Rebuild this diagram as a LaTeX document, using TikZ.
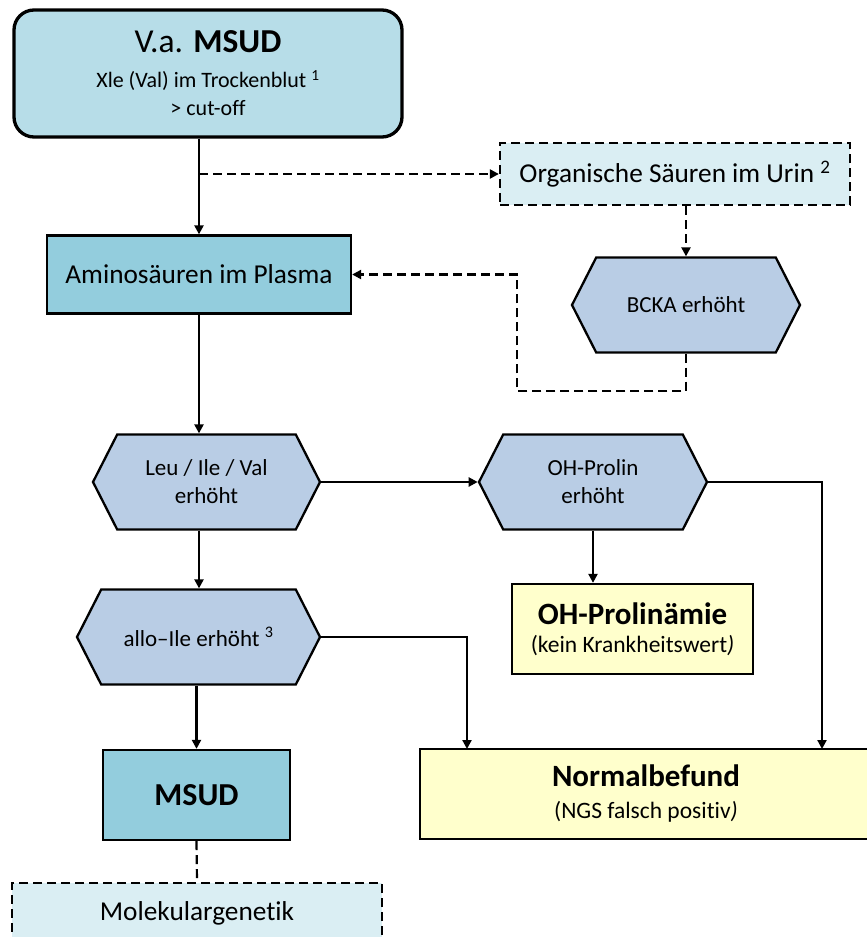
\documentclass[tikz,border=0pt]{standalone}
\usepackage{fontspec}
\setmainfont{Carlito}[Ligatures=CommonOff]
\usetikzlibrary{arrows.meta,shapes.symbols}
\definecolor{headblue}{HTML}{B7DDE8}
\definecolor{boxblue}{HTML}{93CDDD}
\definecolor{paleblue}{HTML}{DAEEF3}
\definecolor{hexblue}{HTML}{B9CDE5}
\definecolor{resyellow}{HTML}{FFFFCC}
\newcommand\fsz[2]{\fontsize{#1}{#2}\selectfont}
\begin{document}
\begin{tikzpicture}[x=1pt,y=-1pt,
  box/.style={draw,line width=2.3pt,inner sep=0pt,align=center},
  dashbox/.style={box,fill=paleblue,dash pattern=on 9pt off 5pt,font=\fsz{27.3}{31}},
  hexa/.style={draw,line width=2.3pt,fill=hexblue,signal,signal to=west and east,
    signal pointer angle=126,minimum height=95pt,inner sep=0pt,align=center,font=\fsz{23}{28}},
  result/.style={box,fill=resyellow,font=\fsz{23.5}{33}},
  arr/.style={-{Triangle[length=9pt,width=9pt]},line width=2.2pt},
  dasharr/.style={arr,dash pattern=on 9pt off 5pt}]
\useasboundingbox (0,0) rectangle (867,937);
\node [box,fill=headblue,line width=3.3pt,rounded corners=20pt,minimum width=388pt,minimum height=127pt,font=\fsz{22}{28}] (vamsud) at (208,73.5)
  {{\fsz{33.5}{33.5}V.a. \textbf{MSUD}}\\[7pt] Xle (Val) im Trockenblut \textsuperscript{1}\\ > cut-off};
\node [dashbox,minimum width=350pt,minimum height=62pt] (organ) at (675,174) {Organische Säuren im Urin \textsuperscript{2}};
\node [box,fill=boxblue,minimum width=304pt,minimum height=78pt,font=\fsz{27.3}{31}] (amino) at (199,274.5) {Aminosäuren im Plasma};
\node [hexa,minimum width=228pt] (bcka) at (686,305) {BCKA erhöht};
\node [hexa,minimum width=227pt] (leu) at (206.5,482) {Leu / Ile / Val\\ erhöht};
\node [hexa,minimum width=228pt] (ohpro) at (593,482) {OH-Prolin\\ erhöht};
\node [hexa,minimum width=243pt] (allo) at (198.5,637) {allo--Ile erhöht \textsuperscript{3}};
\node [result,minimum width=241pt,minimum height=90pt] (ohpam) at (632.5,629) {{\fsz{31}{31}\textbf{OH-Prolinämie}}\\[-5pt] (kein Krankheitswert\textit{)}};
\node [box,fill=boxblue,minimum width=187pt,minimum height=90pt,font=\fsz{32}{32}\bfseries] (msud) at (196.5,795) {MSUD};
\node [result,minimum width=452pt,minimum height=90pt] (normal) at (646,794) {{\fsz{31}{31}\textbf{Normalbefund}}\\[-1pt] (NGS falsch positiv\textit{)}};
\node [dashbox,minimum width=370pt,minimum height=60pt] (molek) at (197,913) {Molekulargenetik};
\coordinate (fb) at (517,391);
\coordinate (inA) at (467,749);
\coordinate (inB) at (822,749);
\draw [arr] (vamsud.south -| amino.north) -- (amino.north);
\draw [dasharr] (amino.north |- organ.west) -- (organ.west);
\draw [dasharr] (organ.south -| bcka.north) -- (bcka.north);
\draw [dasharr] (bcka.south) |- (fb) |- (amino.east);
\draw [arr] (amino.south) -- (amino.south |- leu.north);
\draw [arr] (leu.east) -- (ohpro.west);
\draw [arr] (amino.south |- leu.south) -- (amino.south |- allo.north);
\draw [arr] (ohpro.south) -- (ohpro.south |- ohpam.north);
\draw [arr] (ohpro.east) -| (inB);
\draw [arr] (allo.east) -| (inA);
\draw [arr] (allo.south -| msud.north) -- (msud.north);
\draw [line width=2.2pt,dash pattern=on 9pt off 5pt] (msud.south) -- (molek.north);
\end{tikzpicture}
\end{document}
